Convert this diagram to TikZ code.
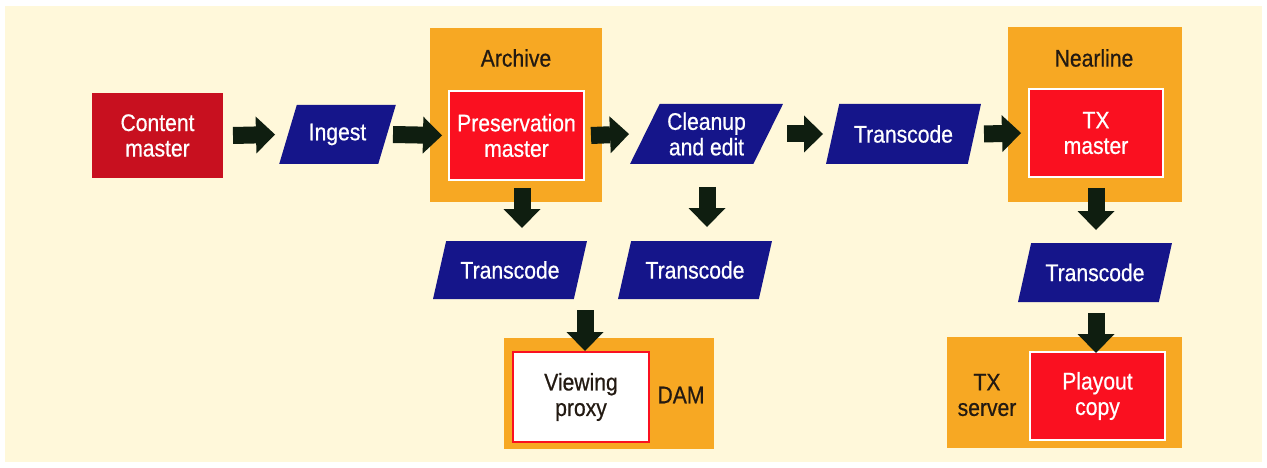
\documentclass[tikz,border=0pt]{standalone}
\usepackage{fontspec}
\setmainfont[FakeStretch=0.88,FakeBold=0.6]{Liberation Sans}
\usetikzlibrary{arrows.meta,shapes.geometric}
\definecolor{cream}{HTML}{FFF8DA}
\definecolor{orangebox}{HTML}{F7A823}
\definecolor{darkred}{HTML}{C8101F}
\definecolor{brightred}{HTML}{FA1020}
\definecolor{navy}{HTML}{15158A}
\definecolor{arrowcol}{HTML}{0F1E10}
\definecolor{darktext}{HTML}{231A12}
\tikzset{
  box/.style={rectangle, inner sep=0pt, align=center},
  group/.style={box, fill=orangebox},
  master/.style={box, fill=brightred, draw=white, line width=2.5pt, text=white},
  para/.style={trapezium, trapezium left angle=60, trapezium right angle=120,
    trapezium stretches=true, fill=navy, text=white, inner sep=0pt, align=center},
  blockarrow/.style={draw=arrowcol, line width=17pt,
    -{Triangle[width=37pt,length=19pt,line width=0pt]}},
  darklbl/.style={text=darktext, align=center, inner sep=0pt}
}
\begin{document}
\begin{tikzpicture}[x=1pt,y=-1pt,font=\fontsize{24}{25.5}\selectfont]
\useasboundingbox (0,0) rectangle (1267,468);
\fill[white] (0,0) rectangle (1267,468);
\fill[cream] (5,6) rectangle (1262,462);

% groups
\node[group, minimum width=172pt, minimum height=174pt] (archive) at (516,115) {};
\node[group, minimum width=174pt, minimum height=175pt] (nearline) at (1095,114.5) {};
\node[group, minimum width=210pt, minimum height=111pt] (dam) at (609,393.5) {};
\node[group, minimum width=235pt, minimum height=111pt] (txs) at (1064.5,392.5) {};

\node[darklbl] (archlbl) at (516,58) {Archive};
\node[darklbl] (nearlbl) at (1094,58) {Nearline};
\node[darklbl] (damlbl) at (681,395) {DAM};
\node[darklbl] (txslbl) at (987,395) {TX\\server};

% main nodes
\node[box, fill=darkred, text=white, minimum width=131pt, minimum height=85pt] (cm) at (157.5,135.5) {Content\\master};
\node[para, minimum width=117pt, minimum height=59pt] (ingest) at (337.5,134.5) {Ingest};
\node[master, minimum width=135pt, minimum height=89pt] (pres) at (516.5,135.5) {Preservation\\master};
\node[para, minimum width=153pt, minimum height=60pt] (cleanup) at (706.5,134) {Cleanup\\and edit};
\node[para, minimum width=155pt, minimum height=60pt] (tc1) at (903.5,134) {Transcode};
\node[master, minimum width=134pt, minimum height=88pt] (txm) at (1096,133) {TX\\master};
\node[para, minimum width=154pt, minimum height=58pt] (tc2) at (510,270) {Transcode};
\node[para, minimum width=154pt, minimum height=58pt] (tc3) at (695,270) {Transcode};
\node[para, minimum width=154pt, minimum height=59pt] (tc4) at (1095,272.5) {Transcode};
\node[box, fill=white, draw=brightred, line width=2.5pt, text=darktext, minimum width=136pt, minimum height=90pt] (vp) at (581,397) {Viewing\\proxy};
\node[master, minimum width=135pt, minimum height=88pt] (pc) at (1097.5,396) {Playout\\copy};

% arrows (offsets from node centres)
\draw[blockarrow] ([xshift=75.5pt]cm.center) -- ([xshift=-62.5pt]ingest.center);
\draw[blockarrow] ([xshift=55.5pt]ingest.center) -- ([xshift=-74.5pt]pres.center);
\draw[blockarrow] ([xshift=74.5pt]pres.center) -- ([xshift=-77.5pt]cleanup.center);
\draw[blockarrow] ([xshift=80.5pt]cleanup.center) -- ([xshift=-80.5pt]tc1.center);
\draw[blockarrow] ([xshift=80.5pt]tc1.center) -- ([xshift=-75pt]txm.center);
\draw[blockarrow] ([xshift=6pt,yshift=-73pt]archive.center) -- ([xshift=12pt,yshift=42pt]tc2.center);
\draw[blockarrow] ([xshift=0.5pt,yshift=-53pt]cleanup.center) -- ([xshift=12pt,yshift=43pt]tc3.center);
\draw[blockarrow] ([xshift=1pt,yshift=-73.5pt]nearline.center) -- ([xshift=1pt,yshift=42.5pt]tc4.center);
\draw[blockarrow] ([xshift=75pt,yshift=-40pt]tc2.center) -- ([xshift=4pt,yshift=46pt]vp.center);
\draw[blockarrow] ([xshift=1pt,yshift=-40.5pt]tc4.center) -- ([xshift=-1.5pt,yshift=43pt]pc.center);
\end{tikzpicture}
\end{document}
